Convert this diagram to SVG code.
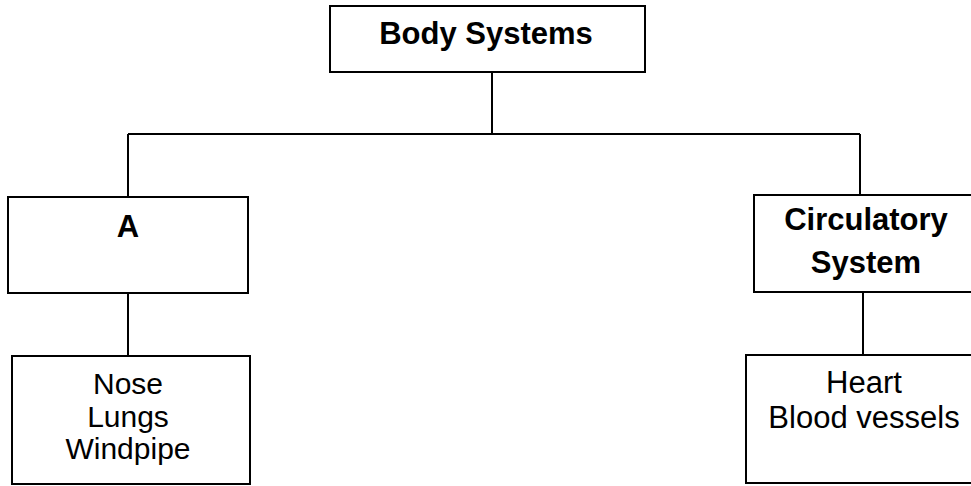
<svg xmlns="http://www.w3.org/2000/svg" width="971" height="486" viewBox="0 0 971 486">
<style>
.box{fill:#fff;stroke:#000;stroke-width:2}
.open{fill:none;stroke:#000;stroke-width:2}
.conn{fill:none;stroke:#000;stroke-width:2}
.t{font-family:"Liberation Sans",Arial,sans-serif;fill:#000;text-anchor:middle}
.b{font-weight:bold;font-size:31px}
.l{font-size:30px}
.r{font-size:31px}
</style>
<rect width="971" height="486" fill="#fff"/>
<g id="connectors">
<path class="conn" d="M492 72 V134"/>
<path class="conn" d="M128 134 H860"/>
<path class="conn" d="M128 134 V197"/>
<path class="conn" d="M860 134 V195"/>
<path class="conn" d="M128 293 V356"/>
<path class="conn" d="M863 292 V355"/>
</g>
<g id="body-systems">
<rect class="box" x="330" y="6" width="315" height="66"/>
<text class="t b" x="486" y="44">Body Systems</text>
</g>
<g id="node-a">
<rect class="box" x="8" y="197" width="240" height="96"/>
<text class="t b" x="128" y="237">A</text>
</g>
<g id="circulatory">
<path class="open" d="M973 195 H754 V292 H973"/>
<text class="t b" x="866" y="230">Circulatory</text>
<text class="t b" x="866" y="273">System</text>
</g>
<g id="respiratory-organs">
<rect class="box" x="12" y="356" width="238" height="128"/>
<text class="t l" x="128" y="394">Nose</text>
<text class="t l" x="128" y="427">Lungs</text>
<text class="t l" x="128" y="459">Windpipe</text>
</g>
<g id="circulatory-organs">
<path class="open" d="M973 355 H746 V483 H973"/>
<text class="t r" x="864" y="393">Heart</text>
<text class="t r" x="864" y="428">Blood vessels</text>
</g>
</svg>
